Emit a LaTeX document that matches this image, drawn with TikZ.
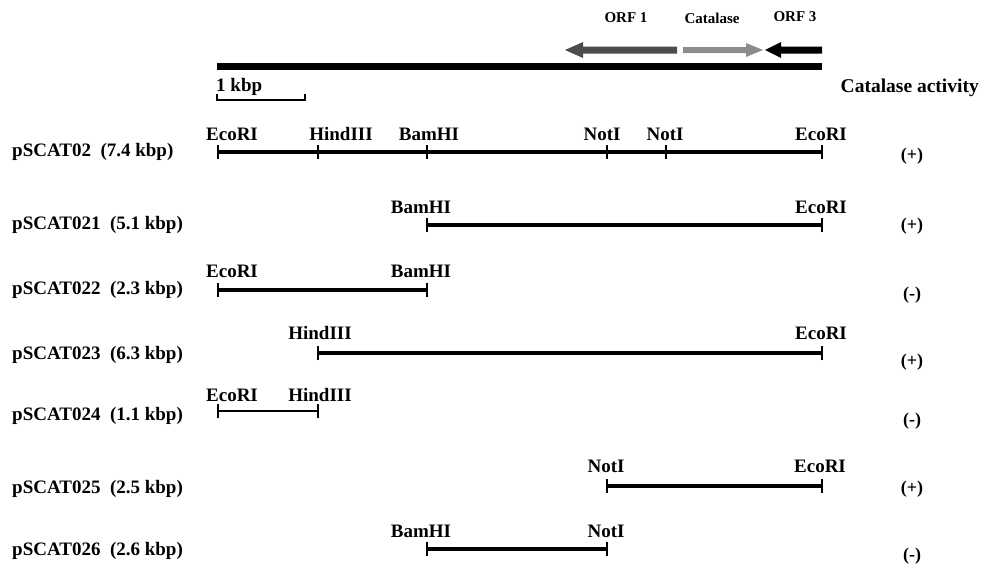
\documentclass[tikz,border=0pt]{standalone}
\usepackage{fontspec}
\setmainfont{Liberation Serif}
\begin{document}
\begin{tikzpicture}[x=1pt,y=-1pt,
  site/.style={font=\fontsize{19}{19}\selectfont\bfseries, inner sep=0pt, anchor=center},
  rowlabel/.style={font=\fontsize{19}{19}\selectfont\bfseries, inner sep=0pt, anchor=west},
  activity/.style={font=\fontsize{18}{18}\selectfont\bfseries, inner sep=0pt},
  genelabel/.style={font=\fontsize{15}{15}\selectfont\bfseries, inner sep=0pt},
  frag/.style={line width=3.4pt},
  thinfrag/.style={line width=2.2pt},
  endtick/.style={line width=2.6pt},
  midtick/.style={line width=2pt}]
\useasboundingbox (0,0) rectangle (981,571);

% genomic map bar and open reading frames
\coordinate (barL) at (217,66.5);
\coordinate (barR) at (822,66.5);
\draw[line width=7.5pt] (barL) -- (barR);
\fill[black!70] (677,46.5) -- (583,46.5) -- (583,42) -- (565,50) -- (583,58) -- (583,53.5) -- (677,53.5) -- cycle;
\fill[black!45] (683,47) -- (746,47) -- (746,43) -- (763,50) -- (746,57) -- (746,53) -- (683,53) -- cycle;
\fill[black] (822,46.5) -- (781,46.5) -- (781,42) -- (765,50) -- (781,58) -- (781,53.5) -- (822,53.5) -- cycle;
\node[genelabel] (orf1) at (626,18) {ORF 1};
\node[genelabel] (cat) at (712,18) {Catalase};
\node[genelabel] (orf3) at (795,17) {ORF 3};

% scale bar
\node[site, anchor=west] (kbp) at (216,87) {1 kbp};
\coordinate (sL) at (217,100);
\coordinate (sR) at (305,100);
\draw[line width=1.4pt] ([yshift=6]sL) -- (sL) -- (sR) -- ([yshift=6]sR);

\node[font=\fontsize{19.5}{19.5}\selectfont\bfseries, inner sep=0pt, anchor=east] (act) at (979,88) {Catalase activity};

% pSCAT02
\node[rowlabel] (r1) at (12,152) {pSCAT02\ \ (7.4 kbp)};
\coordinate (a1) at (218,152);
\coordinate (a2) at (318,152);
\coordinate (a3) at (427,152);
\coordinate (a4) at (607,152);
\coordinate (a5) at (666,152);
\coordinate (a6) at (822,152);
\draw[frag] (a1) -- (a6);
\draw[endtick] ([yshift=-7]a1) -- ([yshift=7]a1);
\draw[endtick] ([yshift=-7]a6) -- ([yshift=7]a6);
\foreach \p in {a2,a3,a4,a5} \draw[midtick] ([yshift=-7]\p) -- ([yshift=7]\p);
\node[site] (s11) at (232,134) {EcoRI};
\node[site] (s12) at (341,134) {HindIII};
\node[site] (s13) at (429,134) {BamHI};
\node[site] (s14) at (602,134) {NotI};
\node[site] (s15) at (665,134) {NotI};
\node[site] (s16) at (821,134) {EcoRI};
\node[activity] (p1) at (912,156) {(+)};

% pSCAT021
\node[rowlabel] (r2) at (12,225) {pSCAT021\ \ (5.1 kbp)};
\coordinate (b1) at (427,225);
\coordinate (b2) at (822,225);
\draw[frag] (b1) -- (b2);
\foreach \p in {b1,b2} \draw[endtick] ([yshift=-7]\p) -- ([yshift=7]\p);
\node[site] (s21) at (421,207) {BamHI};
\node[site] (s22) at (821,207) {EcoRI};
\node[activity] (p2) at (912,226) {(+)};

% pSCAT022
\node[rowlabel] (r3) at (12,290) {pSCAT022\ \ (2.3 kbp)};
\coordinate (c1) at (218,290);
\coordinate (c2) at (427,290);
\draw[frag] (c1) -- (c2);
\foreach \p in {c1,c2} \draw[endtick] ([yshift=-7]\p) -- ([yshift=7]\p);
\node[site] (s31) at (232,271) {EcoRI};
\node[site] (s32) at (421,271) {BamHI};
\node[activity] (p3) at (912,295) {(-)};

% pSCAT023
\node[rowlabel] (r4) at (12,355) {pSCAT023\ \ (6.3 kbp)};
\coordinate (d1) at (318,353);
\coordinate (d2) at (822,353);
\draw[frag] (d1) -- (d2);
\foreach \p in {d1,d2} \draw[endtick] ([yshift=-7]\p) -- ([yshift=7]\p);
\node[site] (s41) at (320,333) {HindIII};
\node[site] (s42) at (821,333) {EcoRI};
\node[activity] (p4) at (912,362) {(+)};

% pSCAT024
\node[rowlabel] (r5) at (12,416) {pSCAT024\ \ (1.1 kbp)};
\coordinate (e1) at (218,411);
\coordinate (e2) at (318,411);
\draw[thinfrag] (e1) -- (e2);
\foreach \p in {e1,e2} \draw[midtick] ([yshift=-7]\p) -- ([yshift=7]\p);
\node[site] (s51) at (232,395) {EcoRI};
\node[site] (s52) at (320,395) {HindIII};
\node[activity] (p5) at (912,421) {(-)};

% pSCAT025
\node[rowlabel] (r6) at (12,489) {pSCAT025\ \ (2.5 kbp)};
\coordinate (f1) at (607,486);
\coordinate (f2) at (822,486);
\draw[frag] (f1) -- (f2);
\foreach \p in {f1,f2} \draw[endtick] ([yshift=-7]\p) -- ([yshift=7]\p);
\node[site] (s61) at (606,466) {NotI};
\node[site] (s62) at (820,466) {EcoRI};
\node[activity] (p6) at (912,489) {(+)};

% pSCAT026
\node[rowlabel] (r7) at (12,551) {pSCAT026\ \ (2.6 kbp)};
\coordinate (g1) at (427,549);
\coordinate (g2) at (607,549);
\draw[frag] (g1) -- (g2);
\foreach \p in {g1,g2} \draw[endtick] ([yshift=-7]\p) -- ([yshift=7]\p);
\node[site] (s71) at (421,531) {BamHI};
\node[site] (s72) at (606,531) {NotI};
\node[activity] (p7) at (912,556) {(-)};
\end{tikzpicture}
\end{document}
